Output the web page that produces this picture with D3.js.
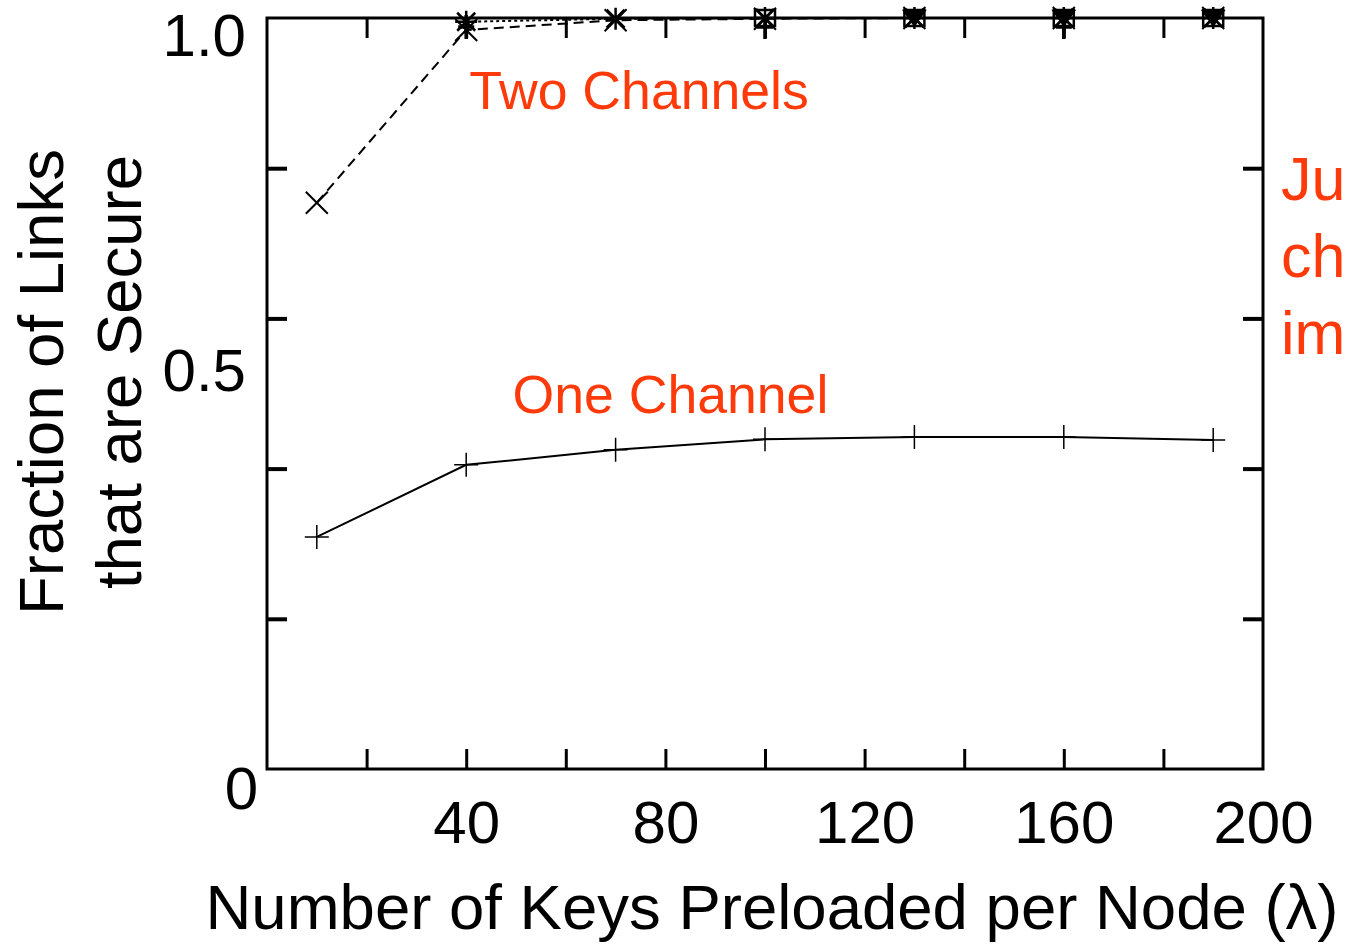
<!DOCTYPE html>
<html><head><meta charset="utf-8">
<script src="https://cdn.jsdelivr.net/npm/d3@7"></script>
<style>
html,body{margin:0;padding:0;background:#fff;overflow:hidden}
text{font-family:"Liberation Sans",Arial,Helvetica,sans-serif}
</style></head>
<body><svg id="c" width="1349" height="948"></svg>
<script>
// ---- data ----
const keys = [10, 40, 70, 100, 130, 160, 190];
const oneChannel = [0.309, 0.405, 0.425, 0.439, 0.442, 0.442, 0.438];
const twoX = [0.754, 0.984, 0.997, 0.999, 1.0, 1.0, 1.0];
const twoStarKeys = [40, 70, 100, 130, 160, 190];
const twoStar = [0.995, 0.999, 1.0, 1.0, 1.0, 1.0];
const twoSquareKeys = [100, 130, 160, 190];
const twoSquare = [1.0, 1.0, 1.0, 1.0];
const twoTriKeys = [130, 160, 190];
const twoTri = [1.0, 1.0, 1.0];
const twoBarKeys = [40, 100, 160];
const twoBar = [0.988, 0.988, 0.988];
const xTickLabels = [40, 80, 120, 160, 200];
const xMinorTicks = [20, 40, 60, 80, 100, 120, 140, 160, 180];
const yTickLabels = [0, 0.5, 1.0];
const yMinorTicks = [0.2, 0.4, 0.6, 0.8];
const xTitle = "Number of Keys Preloaded per Node (\u03bb)";
const yTitle1 = "Fraction of Links";
const yTitle2 = "that are Secure";
const notes = ["Two Channels", "One Channel"];
const sideNote = ["Ju", "ch", "im"];

// ---- layout ----
const svg = d3.select("#c");
const L = 267, R = 1263, T = 18, B = 769;
const x = d3.scaleLinear().domain([0, 200]).range([L, R]);
const y = d3.scaleLinear().domain([0, 1]).range([B, T]);
const red = "#ff3a0a";
const fs = 60;
const titleFs = 63.5;

// series lines
const line = (ks, vs) => d3.line().x((d,i)=>x(ks[i])).y(d=>y(d))(vs);
svg.append("path").attr("d", line(keys, oneChannel)).attr("fill","none").attr("stroke","#000").attr("stroke-width",2);
svg.append("path").attr("d", line(keys, twoX)).attr("fill","none").attr("stroke","#000").attr("stroke-width",2).attr("stroke-dasharray","10,6");
svg.append("path").attr("d", line(twoStarKeys, twoStar)).attr("fill","none").attr("stroke","#000").attr("stroke-width",2).attr("stroke-dasharray","3,3");
svg.append("path").attr("d", line(twoSquareKeys, twoSquare)).attr("fill","none").attr("stroke","#000").attr("stroke-width",2).attr("stroke-dasharray","12,4,3,4");

// markers
const g = svg.append("g");
keys.forEach((k,i)=>{
  g.append("path").attr("transform",`translate(${x(k)},${y(oneChannel[i])})`)
   .attr("d","M-12,0H12M0,-12V12").attr("stroke","#000").attr("stroke-width",1.5).attr("fill","none");
  g.append("path").attr("transform",`translate(${x(k)},${y(twoX[i])})`)
   .attr("d","M-11,-11L11,11M-11,11L11,-11").attr("stroke","#000").attr("stroke-width",2).attr("fill","none");
});
twoStarKeys.forEach((k,i)=>{
  g.append("path").attr("transform",`translate(${x(k)},${y(twoStar[i])})`)
   .attr("d","M-11,0H11M0,-11V11M-9,-9L9,9M-9,9L9,-9").attr("stroke","#000").attr("stroke-width",2.5).attr("fill","none");
});
twoBarKeys.forEach((k,i)=>{
  g.append("path").attr("transform",`translate(${x(k)},${y(twoBar[i])})`)
   .attr("d","M-8,0H8M0,-12V12").attr("stroke","#000").attr("stroke-width",3.5).attr("fill","none");
});
twoSquareKeys.forEach((k,i)=>{
  g.append("rect").attr("x",x(k)-10).attr("y",y(twoSquare[i])-8).attr("width",20).attr("height",16)
   .attr("fill","none").attr("stroke","#000").attr("stroke-width",2.5);
});
twoTriKeys.forEach((k,i)=>{
  g.append("path").attr("transform",`translate(${x(k)},${y(twoTri[i])})`)
   .attr("d","M-10,-7L10,-7L0,7Z").attr("stroke","#000").attr("stroke-width",2.5).attr("fill","#000");
});

// frame
svg.append("rect").attr("x",L).attr("y",T).attr("width",R-L).attr("height",B-T)
  .attr("fill","none").attr("stroke","#000").attr("stroke-width",3);

// inward ticks via axes
const tick = 20;
const styleAxis = sel => { sel.select(".domain").remove(); sel.selectAll("line").attr("stroke","#000"); sel.selectAll("text").remove(); };
svg.append("g").attr("transform",`translate(0,${B})`).call(d3.axisBottom(x).tickValues(xMinorTicks).tickSize(-tick)).call(styleAxis).selectAll("line").attr("stroke-width",3);
svg.append("g").attr("transform",`translate(0,${T})`).call(d3.axisTop(x).tickValues(xMinorTicks).tickSize(-tick)).call(styleAxis).selectAll("line").attr("stroke-width",3);
svg.append("g").attr("transform",`translate(${L},0)`).call(d3.axisLeft(y).tickValues(yMinorTicks).tickSize(-tick)).call(styleAxis).selectAll("line").attr("stroke-width",4);
svg.append("g").attr("transform",`translate(${R},0)`).call(d3.axisRight(y).tickValues(yMinorTicks).tickSize(-tick)).call(styleAxis).selectAll("line").attr("stroke-width",4);

// x tick labels
const xl = svg.append("g").attr("transform",`translate(0,${B})`)
  .call(d3.axisBottom(x).tickValues(xTickLabels).tickSize(0).tickPadding(0).tickFormat(d=>String(d)));
xl.select(".domain").remove();
xl.selectAll("text").attr("font-size",fs).attr("fill","#000").attr("dy",null).attr("y",74)
  .attr("font-family","Liberation Sans, Arial, sans-serif");

// y tick labels (scanned figure has them slightly offset from their ticks)
const yNudge = v => v === 0 ? 40 : v === 0.5 ? -3 : 38;
const yLabelX = v => v === 0 ? 258 : 246;
svg.append("g").selectAll("text").data(yTickLabels).join("text")
  .attr("x", d => yLabelX(d)).attr("y", d => y(d) + yNudge(d))
  .attr("text-anchor","end").attr("font-size",fs).attr("fill","#000")
  .text(d => d === 0 ? "0" : d3.format(".1f")(d));

// axis titles
svg.append("text").attr("x", 772).attr("y", 929).attr("text-anchor","middle").attr("font-size",titleFs).attr("fill","#000").text(xTitle);
svg.append("text").attr("transform","translate(63,382) rotate(-90)").attr("text-anchor","middle").attr("font-size",titleFs).attr("fill","#000").text(yTitle1);
svg.append("text").attr("transform","translate(141,372) rotate(-90)").attr("text-anchor","middle").attr("font-size",titleFs).attr("fill","#000").text(yTitle2);

// red annotations
svg.append("text").attr("x", x(40.6)).attr("y", 109).attr("font-size",53.6).attr("fill",red).text(notes[0]);
svg.append("text").attr("x", x(49.3)).attr("y", 413).attr("font-size",53.6).attr("fill",red).text(notes[1]);
sideNote.forEach((t,i)=>{
  svg.append("text").attr("x",1281).attr("y",200 + i*77).attr("font-size",61).attr("fill",red).text(t);
});
</script></body></html>
